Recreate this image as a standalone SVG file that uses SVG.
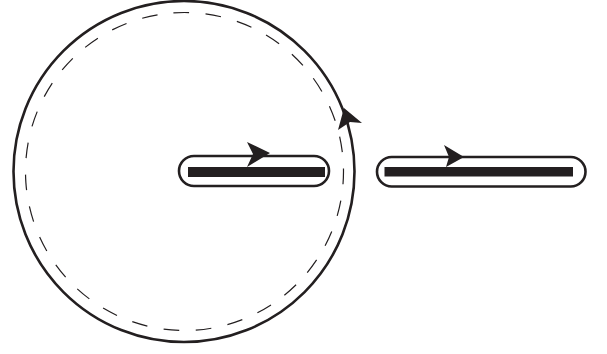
<svg xmlns="http://www.w3.org/2000/svg" width="607" height="354" viewBox="0 0 607 354">
<style>
.loop{fill:none;stroke:#231f20;stroke-width:2.6}
.dash{fill:none;stroke:#231f20;stroke-width:1.2;stroke-dasharray:15.7 16.53}
.bar{fill:#231f20}
.head{fill:#231f20}
</style>
<rect width="607" height="354" fill="#fff"/>
<g id="connectors">
<circle class="loop" cx="184" cy="171.5" r="170.500"/>
<circle class="dash" cx="184.500" cy="171.500" r="159" transform="rotate(-94 184.500 171.500)"/>
<polygon class="head" points="344,108 362,123 350,122 338,130"/>
</g>
<g id="inner-slot">
<rect class="loop" x="179" y="156" width="150" height="30" rx="15"/>
<rect class="bar" x="188" y="167" width="137" height="10"/>
<polygon class="head" points="270,153 247,142 253,154 247,167"/>
</g>
<g id="outer-slot">
<rect class="loop" x="377" y="157" width="208.500" height="29.500" rx="14.700"/>
<rect class="bar" x="384.500" y="167" width="188.500" height="9.500"/>
<polygon class="head" points="464,157 444,145 449,157 446,167"/>
</g>
</svg>
